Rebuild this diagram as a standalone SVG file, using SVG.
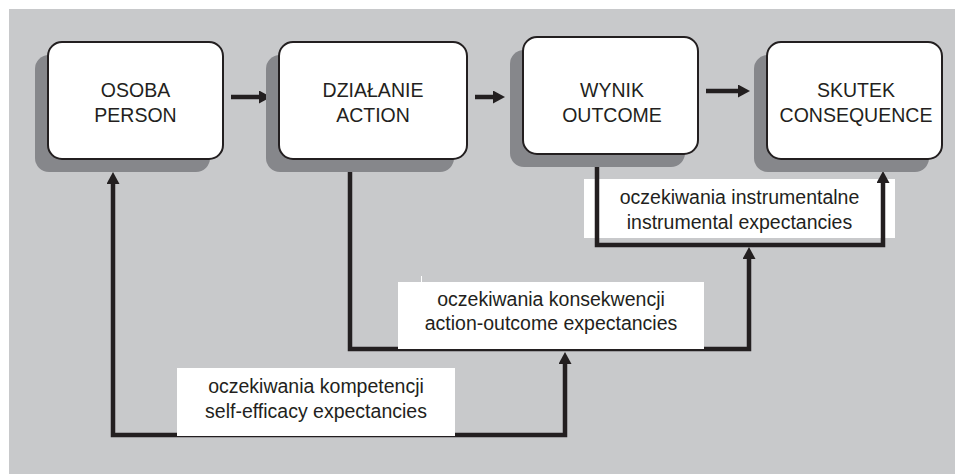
<svg xmlns="http://www.w3.org/2000/svg" width="955" height="474" viewBox="0 0 955 474">
<style>
.node{fill:#fff;stroke:#231f20;stroke-width:2}
.shadow{fill:#86878b}
.nt{font-family:"Liberation Sans",Arial,sans-serif;font-size:19.5px;fill:#231f20;text-anchor:middle}
.lb{fill:#fff}
.conn{fill:none;stroke:#231f20;stroke-width:4.5}
</style>
<defs>
<marker id="ah" markerUnits="userSpaceOnUse" viewBox="0 0 12 13" markerWidth="12" markerHeight="13" refX="0" refY="6.5" orient="auto-start-reverse">
<path d="M0,0 L12,6.5 L0,13 z" fill="#231f20"/>
</marker>
</defs>
<rect x="0" y="0" width="955" height="474" fill="#fff"/>
<rect x="9" y="9" width="946" height="465" fill="#c8c9cb"/>
<g id="label-instrumental">
<rect class="lb" x="584" y="179" width="311" height="59"/>
<text class="nt" x="739.5" y="203.5">oczekiwania instrumentalne</text>
<text class="nt" x="739.5" y="228.5">instrumental expectancies</text>
</g>
<g id="connectors">
<line class="conn" x1="231" y1="97" x2="259" y2="97" marker-end="url(#ah)"/>
<line class="conn" x1="475" y1="97" x2="493" y2="97" marker-end="url(#ah)"/>
<line class="conn" x1="706" y1="91" x2="738" y2="91" marker-end="url(#ah)"/>
<path class="conn" d="M565,364 V435 H113 V184" marker-start="url(#ah)" marker-end="url(#ah)"/>
<path class="conn" d="M350,171 V349 H749 V259" marker-end="url(#ah)"/>
<path class="conn" d="M597,166 V245 H883 V183" marker-end="url(#ah)"/>
</g>
<g id="label-konsekwencji">
<rect class="lb" x="398" y="282" width="306" height="67"/>
<line x1="421.5" y1="276" x2="421.5" y2="282" stroke="#fff" stroke-width="1"/>
<text class="nt" x="551" y="306">oczekiwania konsekwencji</text>
<text class="nt" x="551" y="330">action-outcome expectancies</text>
</g>
<g id="label-kompetencji">
<rect class="lb" x="177" y="368" width="278" height="68"/>
<text class="nt" x="316" y="393.3">oczekiwania kompetencji</text>
<text class="nt" x="316" y="418.3">self-efficacy expectancies</text>
</g>
<g id="node-osoba">
<rect class="shadow" x="35" y="55" width="175" height="117" rx="14"/>
<rect class="node" x="48" y="42" width="175" height="117" rx="14"/>
<text class="nt" x="135.5" y="97">OSOBA</text>
<text class="nt" x="135.5" y="122">PERSON</text>
</g>
<g id="node-dzialanie">
<rect class="shadow" x="266" y="55" width="188" height="117" rx="14"/>
<rect class="node" x="279" y="42" width="188" height="117" rx="14"/>
<text class="nt" x="373" y="97">DZIAŁANIE</text>
<text class="nt" x="373" y="122">ACTION</text>
</g>
<g id="node-wynik">
<rect class="shadow" x="510" y="50" width="175" height="117" rx="14"/>
<rect class="node" x="523" y="37" width="175" height="117" rx="14"/>
<text class="nt" x="612" y="97">WYNIK</text>
<text class="nt" x="612" y="122">OUTCOME</text>
</g>
<g id="node-skutek">
<rect class="shadow" x="754" y="55" width="175" height="117" rx="14"/>
<rect class="node" x="767" y="42" width="175" height="117" rx="14"/>
<text class="nt" x="856" y="97">SKUTEK</text>
<text class="nt" x="856" y="122">CONSEQUENCE</text>
</g>
</svg>
